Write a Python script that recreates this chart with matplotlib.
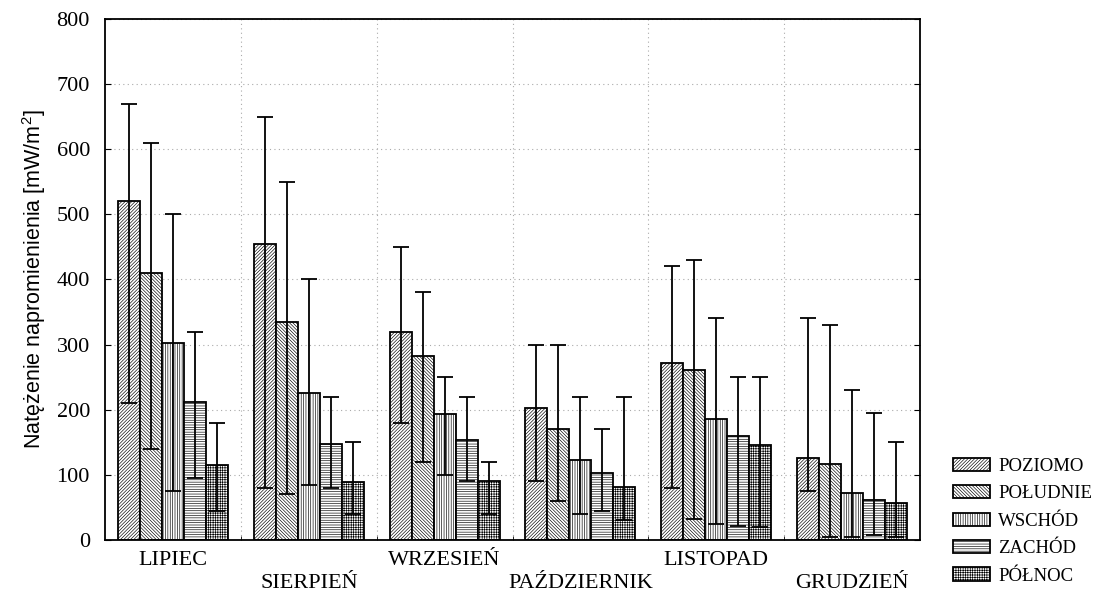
import numpy as np
import matplotlib.pyplot as plt
from matplotlib.ticker import FixedLocator

# Dane
months = ["LIPIEC", "SIERPIEŃ", "WRZESIEŃ", "PAŹDZIERNIK", "LISTOPAD", "GRUDZIEŃ"]
directions = ["POZIOMO", "POŁUDNIE", "WSCHÓD", "ZACHÓD", "PÓŁNOC"]

means = [
    [520, 454, 320, 202, 272, 126],   # POZIOMO
    [410, 334, 283, 170, 261, 116],   # POŁUDNIE
    [302, 225, 193, 123, 185, 72],    # WSCHÓD
    [212, 148, 153, 103, 160, 62],    # ZACHÓD
    [115, 89, 90, 82, 145, 57],       # PÓŁNOC
]
lows = [
    [210, 80, 180, 90, 80, 75],
    [140, 70, 120, 60, 32, 5],
    [75, 85, 100, 40, 25, 5],
    [95, 80, 90, 45, 22, 8],
    [45, 40, 40, 30, 20, 5],
]
highs = [
    [670, 650, 450, 300, 420, 340],
    [610, 550, 380, 300, 430, 330],
    [500, 400, 250, 220, 340, 230],
    [320, 220, 220, 170, 250, 195],
    [180, 150, 120, 220, 250, 150],
]
hatches = ["/" * 10, "\\" * 10, "|" * 7, "-" * 7, "+" * 7]

plt.rcParams["hatch.linewidth"] = 0.45
plt.rcParams["mathtext.default"] = "regular"

fig = plt.figure(figsize=(11.07, 5.92), dpi=100)
ax = fig.add_axes([0.095, 0.088, 0.736, 0.880])

x = np.arange(len(months))
width = 0.162
for k, name in enumerate(directions):
    m = np.array(means[k])
    err = [m - np.array(lows[k]), np.array(highs[k]) - m]
    pos = x + (k - 2) * width
    ax.bar(pos, m, width, color="white", edgecolor="black", linewidth=1.3,
           hatch=hatches[k], label=name, zorder=2)
    ax.errorbar(pos, m, yerr=err, fmt="none", ecolor="black", elinewidth=1.3,
                capsize=6, capthick=1.3, zorder=3)

ax.set_xlim(-0.5, len(months) - 0.5)
ax.set_ylim(0, 800)
ax.set_yticks(np.arange(0, 801, 100))
ax.set_xticks(x)
# etykiety naprzemiennie w dwóch wierszach
labels = [m if i % 2 == 0 else "\n" + m for i, m in enumerate(months)]
ax.set_xticklabels(labels, family="Liberation Serif", fontsize=16,
                   linespacing=1.25)
ax.xaxis.set_minor_locator(FixedLocator(np.arange(0.5, len(months) - 0.5, 1)))
ax.tick_params(axis="x", which="major", length=0, pad=8)
ax.tick_params(axis="x", which="minor", direction="in", length=3)
ax.tick_params(axis="y", direction="in", length=4, right=True, labelsize=16,
               pad=11)
for t in ax.get_yticklabels():
    t.set_family("Liberation Serif")

ax.grid(True, axis="y", linestyle=(0, (1, 3)), color="#aaaaaa", linewidth=0.8, zorder=0)
ax.grid(True, axis="x", which="minor", linestyle=(0, (1, 3)), color="#aaaaaa",
        linewidth=0.8, zorder=0)
for s in ax.spines.values():
    s.set_linewidth(1.3)

ax.set_ylabel("Natężenie napromienienia [mW/m$^2$]", family="Liberation Sans",
              fontsize=15.5, labelpad=6)

fig.legend(loc="lower left", bbox_to_anchor=(0.846, -0.016), frameon=False,
           prop={"family": "Liberation Serif", "size": 13.5},
           handlelength=1.95, handleheight=0.7, labelspacing=0.55,
           handletextpad=0.45)

fig.savefig("out.png", dpi=100)
